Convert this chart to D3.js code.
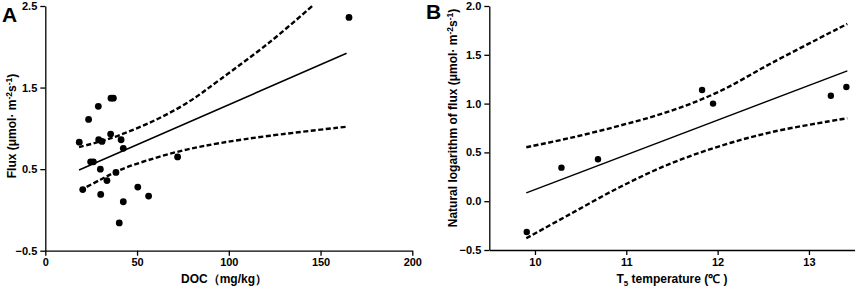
<!DOCTYPE html>
<html>
<head>
<meta charset="utf-8">
<script src="https://cdn.jsdelivr.net/npm/d3@7"></script>
<style>
    body { margin: 0; background: #fff; }
    text { font-family: "Liberation Sans", Arial, sans-serif; font-weight: bold; }
</style>
</head>
<body>
<script>
// ---------------------------------------------------------------------------
// Panel A data: flux against DOC
var docValues = [18.5, 23.6, 28.9, 35.8, 37.1, 35.6, 29.1, 30.9, 41.3, 42.5,
    24.7, 26.2, 30.0, 38.5, 33.6, 20.4, 50.4, 30.2, 56.3, 42.5, 40.3, 72.1,
    165.5];
var fluxValues = [0.83, 1.11, 1.27, 1.37, 1.37, 0.93, 0.86, 0.84, 0.86, 0.755,
    0.59, 0.59, 0.50, 0.46, 0.36, 0.25, 0.28, 0.19, 0.17, 0.10, -0.16, 0.65,
    2.36];
var fitA_x = [18.4, 164.2];
var fitA_y = [0.49, 1.92];
var upperA_x = [18.4, 30, 40.8, 58.9, 77.1, 95.3, 122.5, 145.5];
var upperA_y = [0.77, 0.84, 0.92, 1.09, 1.31, 1.60, 2.06, 2.5];
var lowerA_x = [19, 30, 40.7, 58.9, 77.1, 95.3, 122.5, 164.2];
var lowerA_y = [0.24, 0.37, 0.49, 0.63, 0.74, 0.82, 0.91, 1.02];
var ticksA_x = [0, 50, 100, 150, 200];
var ticksA_y = [-0.5, 0.5, 1.5, 2.5];

// Panel B data: ln(flux) against T5 temperature
var tempValues = [9.91, 10.29, 10.69, 11.83, 11.95, 13.24, 13.41];
var lnFluxValues = [-0.315, 0.344, 0.43, 1.14, 1.0, 1.08, 1.17];
var fitB_x = [9.905, 13.42];
var fitB_y = [0.085, 1.335];
var upperB_x = [9.905, 10.37, 10.92, 11.47, 12.01, 12.6, 13.42];
var upperB_y = [0.553, 0.645, 0.772, 0.92, 1.12, 1.42, 1.817];
var lowerB_x = [9.905, 10.37, 10.92, 11.47, 12.01, 12.6, 13.42];
var lowerB_y = [-0.38, -0.14, 0.14, 0.38, 0.56, 0.71, 0.85];
var ticksB_x = [10, 11, 12, 13];
var ticksB_y = [-0.5, 0, 0.5, 1, 1.5, 2];

var width = 858, height = 288;

var svg = d3.select("body").append("svg")
    .attr("width", width)
    .attr("height", height);

// zip two arrays into point objects
function zip(xs, ys) {
    return xs.map(function(x, i) { return {x: x, y: ys[i]}; });
}

// draws one scatter panel with fit line and dashed confidence bands
function drawPanel(opt) {
    var xScale = d3.scaleLinear().domain(opt.xDomain).range(opt.xRange);
    var yScale = d3.scaleLinear().domain(opt.yDomain).range(opt.yRange);

    var xAxis = d3.axisBottom(xScale)
        .tickValues(opt.xTicks)
        .tickSize(5)
        .tickSizeOuter(0)
        .tickPadding(3)
        .tickFormat(opt.xFormat);
    var yAxis = d3.axisLeft(yScale)
        .tickValues(opt.yTicks)
        .tickSize(5)
        .tickSizeOuter(0)
        .tickPadding(3)
        .tickFormat(d3.format(".1f"));

    var gx = svg.append("g")
        .attr("transform", "translate(0," + opt.yRange[0] + ")")
        .call(xAxis);
    var gy = svg.append("g")
        .attr("transform", "translate(" + opt.xRange[0] + ",0)")
        .call(yAxis);
    [gx, gy].forEach(function(g) {
        g.selectAll("path, line")
            .attr("stroke", "#000")
            .attr("stroke-width", 1.3);
        g.selectAll("text")
            .attr("fill", "#000")
            .attr("font-size", "11px")
            .attr("font-family", "Liberation Sans, Arial, sans-serif")
            .attr("font-weight", "bold");
    });

    var line = d3.line()
        .x(function(d) { return xScale(d.x); })
        .y(function(d) { return yScale(d.y); })
        .curve(d3.curveCatmullRom.alpha(0.5));

    // regression line
    svg.append("path")
        .datum(zip(opt.fitX, opt.fitY))
        .attr("d", line)
        .attr("fill", "none")
        .attr("stroke", "#000")
        .attr("stroke-width", 1.5);

    // confidence bands
    [zip(opt.upX, opt.upY), zip(opt.loX, opt.loY)].forEach(function(band) {
        svg.append("path")
            .datum(band)
            .attr("d", line)
            .attr("fill", "none")
            .attr("stroke", "#000")
            .attr("stroke-width", 2.4)
            .attr("stroke-dasharray", "5,2.5");
    });

    // points
    svg.append("g").selectAll("circle")
        .data(zip(opt.px, opt.py))
        .enter()
        .append("circle")
        .attr("cx", function(d) { return xScale(d.x); })
        .attr("cy", function(d) { return yScale(d.y); })
        .attr("r", opt.r)
        .attr("fill", "#000");
}

drawPanel({
    xDomain: [0, 200], xRange: [45.3, 412.3],
    yDomain: [-0.5, 2.5], yRange: [250.7, 6],
    xTicks: ticksA_x, yTicks: ticksA_y, xFormat: d3.format("d"),
    fitX: fitA_x, fitY: fitA_y,
    upX: upperA_x, upY: upperA_y, loX: lowerA_x, loY: lowerA_y,
    px: docValues, py: fluxValues, r: 3.4
});

drawPanel({
    xDomain: [9.5, 13.5], xRange: [489.3, 854.6],
    yDomain: [-0.5, 2], yRange: [250, 6],
    xTicks: ticksB_x, yTicks: ticksB_y, xFormat: d3.format("d"),
    fitX: fitB_x, fitY: fitB_y,
    upX: upperB_x, upY: upperB_y, loX: lowerB_x, loY: lowerB_y,
    px: tempValues, py: lnFluxValues, r: 3.2
});

// panel letters
svg.append("text").attr("x", 2).attr("y", 22)
    .attr("font-size", "21px").text("A");
svg.append("text").attr("x", 426).attr("y", 19)
    .attr("font-size", "21px").text("B");

// y axis titles with superscripts
function yTitle(x, y, prefix) {
    var t = svg.append("text")
        .attr("transform", "translate(" + x + "," + y + ") rotate(-90)")
        .attr("text-anchor", "middle")
        .attr("font-size", "12px");
    t.append("tspan").text(prefix + "(μmol· m");
    t.append("tspan").attr("dy", -4).attr("font-size", "8.5px").text("-2");
    t.append("tspan").attr("dy", 4).text("s");
    t.append("tspan").attr("dy", -4).attr("font-size", "8.5px").text("-1");
    t.append("tspan").attr("dy", 4).text(")");
}
yTitle(16, 126, "Flux ");
yTitle(457, 118, "Natural logarithm of flux ");

// x axis titles
svg.append("text")
    .attr("x", 224).attr("y", 283)
    .attr("text-anchor", "middle")
    .attr("font-size", "12px")
    .text("DOC（mg/kg）");

var tx = svg.append("text")
    .attr("x", 672).attr("y", 283)
    .attr("text-anchor", "middle")
    .attr("font-size", "12px");
tx.append("tspan").text("T");
tx.append("tspan").attr("dy", 3).attr("font-size", "8px").text("5");
tx.append("tspan").attr("dy", -3).text(" temperature (℃ )");
</script>
</body>
</html>
